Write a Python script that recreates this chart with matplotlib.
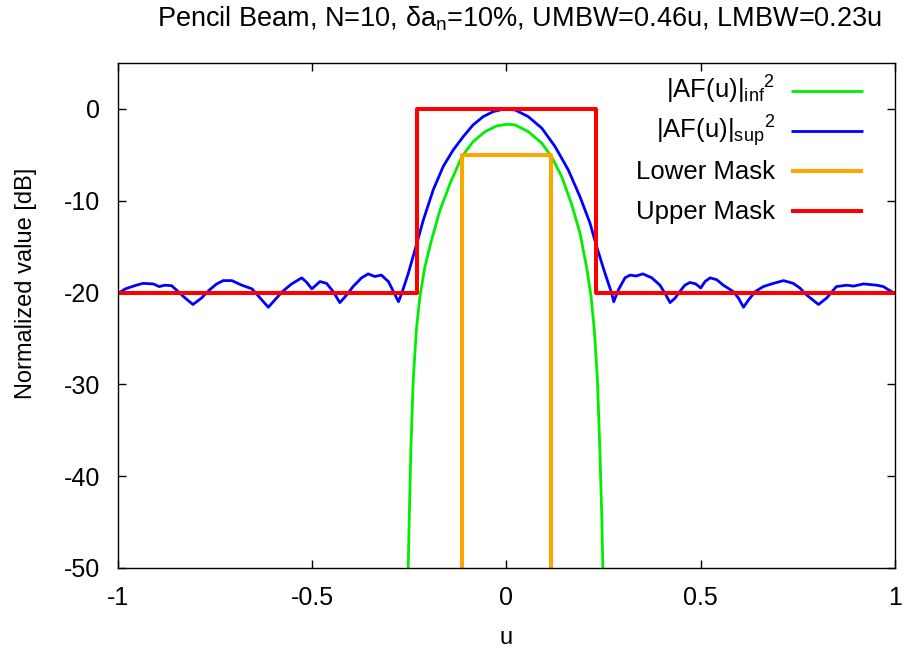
import matplotlib
matplotlib.use("Agg")
import matplotlib.pyplot as plt

plt.rcParams['font.family'] = ['Liberation Sans', 'DejaVu Sans']
plt.rcParams['mathtext.default'] = 'regular'

# |AF(u)|_sup^2 (blue)
u_sup = [-1.0, -0.981, -0.953, -0.935, -0.909, -0.894, -0.879, -0.862, -0.845, -0.827,
         -0.807, -0.785, -0.764, -0.746, -0.729, -0.707, -0.681, -0.655, -0.634, -0.613,
         -0.594, -0.577, -0.553, -0.527, -0.514, -0.501, -0.480, -0.463, -0.446, -0.429,
         -0.412, -0.395, -0.373, -0.356, -0.339, -0.322, -0.304, -0.291, -0.278, -0.2695,
         -0.2527, -0.2355, -0.214, -0.1885, -0.163, -0.137, -0.111, -0.086, -0.060, -0.034,
         -0.008, 0.022, 0.056, 0.091, 0.125, 0.159, 0.189, 0.215, 0.232, 0.2535,
         0.2707, 0.276, 0.288, 0.305, 0.318, 0.333, 0.351, 0.374, 0.395, 0.408,
         0.421, 0.434, 0.446, 0.459, 0.472, 0.487, 0.500, 0.511, 0.524, 0.541,
         0.558, 0.584, 0.597, 0.610, 0.623, 0.640, 0.661, 0.687, 0.713, 0.738,
         0.755, 0.772, 0.803, 0.824, 0.849, 0.876, 0.893, 0.919, 0.953, 0.970,
         0.983, 1.0]
af_sup = [-20.1, -19.6, -19.2, -19.0, -19.06, -19.35, -19.2, -19.25, -19.9, -20.6,
          -21.3, -20.6, -19.7, -19.06, -18.7, -18.7, -19.2, -19.6, -20.6, -21.6,
          -20.7, -19.9, -19.06, -18.4, -18.9, -19.6, -18.8, -19.0, -19.9, -21.1,
          -20.3, -19.35, -18.4, -17.97, -18.25, -18.1, -18.8, -19.9, -21.0, -20.07,
          -17.9, -15.35, -12.1, -8.8, -6.28, -4.46, -3.0, -1.74, -0.84, -0.29,
          -0.03, -0.11, -0.84, -2.1, -4.1, -6.64, -9.55, -12.45, -15.0, -17.9,
          -20.07, -21.0, -19.7, -18.4, -18.1, -18.2, -17.97, -18.4, -19.2, -20.1,
          -21.1, -20.6, -19.9, -19.2, -18.9, -19.06, -19.5, -18.8, -18.4, -18.6,
          -19.2, -19.9, -20.6, -21.6, -20.8, -19.9, -19.35, -19.0, -18.7, -19.0,
          -19.5, -20.25, -21.3, -20.6, -19.35, -19.2, -19.3, -19.06, -19.2, -19.35,
          -19.7, -20.1]

# |AF(u)|_inf^2 (green)
u_inf = [-0.254, -0.250, -0.246, -0.240, -0.232, -0.2227, -0.21, -0.193, -0.171, -0.145,
         -0.115, -0.086, -0.055, -0.025, 0.0, 0.022, 0.056, 0.091, 0.116, 0.142,
         0.167, 0.189, 0.206, 0.2175, 0.226, 0.234, 0.240, 0.245, 0.249]
af_inf = [-52.0, -44.0, -36.8, -29.5, -24.05, -20.4, -17.2, -14.3, -11.0, -8.1,
          -5.2, -3.56, -2.47, -1.85, -1.67, -1.74, -2.47, -3.74, -5.2, -7.37,
          -10.3, -13.5, -17.2, -20.4, -24.05, -29.5, -36.8, -44.0, -52.0]

# Masks
u_lower = [-0.115, -0.115, 0.115, 0.115]
lower_mask = [-60, -5, -5, -60]
u_upper = [-1.0, -0.23, -0.23, 0.23, 0.23, 1.0]
upper_mask = [-20, -20, 0, 0, -20, -20]

labels = [r'|AF(u)|$_{inf}$$^{2}$', r'|AF(u)|$_{sup}$$^{2}$', 'Lower Mask', 'Upper Mask']
colors = ['#00ee00', '#0000ff', '#ffa500', '#ff0000']
widths = [2.0, 2.0, 2.9, 2.9]

fig = plt.figure(figsize=(9.06, 6.53), dpi=100)
ax = fig.add_axes([0.1302, 0.1302, 0.8577, 0.7733])

series = [(u_inf, af_inf), (u_sup, af_sup), (u_lower, lower_mask), (u_upper, upper_mask)]
for (xs, ys), c, w, lab in zip(series, colors, widths, labels):
    ax.plot(xs, ys, color=c, lw=w, label=lab)

ax.set_xlim(-1, 1)
ax.set_ylim(-50, 5)
ax.set_xticks([-1, -0.5, 0, 0.5, 1])
ax.set_xticklabels(['-1', '-0.5', '0', '0.5', '1'])
ax.set_yticks([0, -10, -20, -30, -40, -50])
ax.set_yticklabels(['0', '-10', '-20', '-30', '-40', '-50'])
ax.tick_params(direction='in', length=6, width=1, top=True, right=True,
               labelsize=18, colors='black')
ax.tick_params(axis='x', pad=13)
ax.tick_params(axis='y', pad=13)
for s in ax.spines.values():
    s.set_linewidth(1.0)

ax.set_xlabel('u', fontsize=17, labelpad=12)
ax.set_ylabel('Normalized value [dB]', fontsize=17)
ax.yaxis.set_label_coords(-0.104, 0.564)
ax.set_title('Pencil Beam, N=10, δa$_{n}$=10%, UMBW=0.46u, LMBW=0.23u',
             fontsize=19.5, pad=26, x=0.517)

# key (gnuplot-style: text right-aligned, sample line to the right)
row_y = [0.9446, 0.866, 0.786, 0.707]
for yk, c, w, lab in zip(row_y, colors, widths, labels):
    ax.plot([0.866, 0.959], [yk, yk], color=c, lw=w, transform=ax.transAxes,
            solid_capstyle='butt')
    ax.text(0.8456, yk - 0.016, lab, transform=ax.transAxes, ha='right',
            va='baseline', fontsize=18.5)

fig.savefig('out.png', dpi=100)
